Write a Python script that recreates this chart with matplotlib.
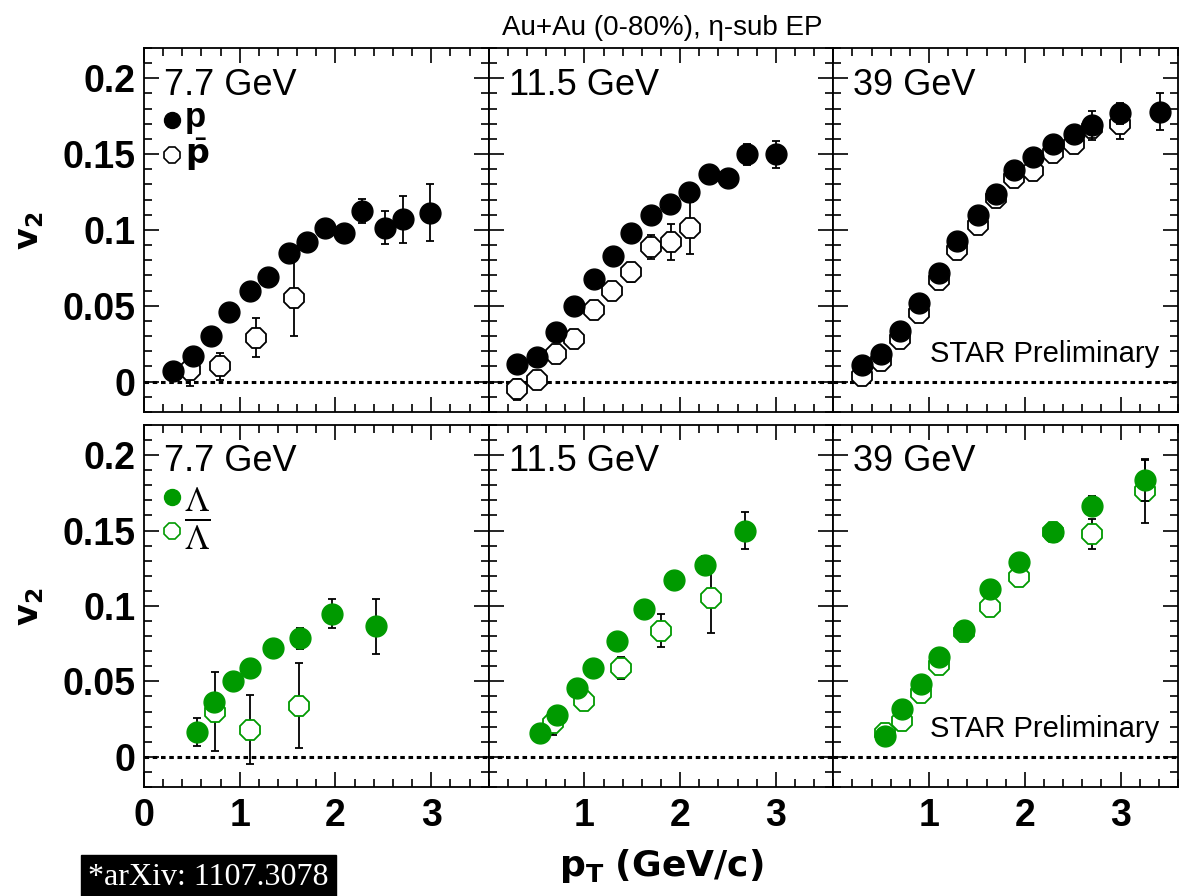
import numpy as np
import matplotlib
matplotlib.use('Agg')
from matplotlib import pyplot as plt
from matplotlib.ticker import MultipleLocator, FixedLocator, FixedFormatter

# Data: pT (GeV/c), v2, stat error
# protons
p77_x = [0.30, 0.51, 0.70, 0.89, 1.11, 1.29, 1.51, 1.70, 1.89, 2.09, 2.28, 2.52, 2.71, 2.99]
p77_y = [0.007, 0.017, 0.030, 0.046, 0.060, 0.069, 0.085, 0.092, 0.101, 0.098, 0.1125, 0.1015, 0.107, 0.1115]
p77_e = [0.001, 0.001, 0.001, 0.001, 0.001, 0.001, 0.001, 0.001, 0.001, 0.001, 0.008, 0.011, 0.0155, 0.019]
pbar77_x = [0.48, 0.79, 1.17, 1.57]
pbar77_y = [0.008, 0.010, 0.029, 0.055]
pbar77_e = [0.011, 0.009, 0.013, 0.025]

p115_x = [0.30, 0.51, 0.70, 0.89, 1.10, 1.30, 1.49, 1.70, 1.89, 2.09, 2.30, 2.50, 2.70, 3.00]
p115_y = [0.0115, 0.016, 0.033, 0.050, 0.068, 0.083, 0.098, 0.110, 0.117, 0.125, 0.137, 0.1345, 0.150, 0.150]
p115_e = [0.001, 0.001, 0.001, 0.001, 0.001, 0.001, 0.001, 0.001, 0.001, 0.001, 0.001, 0.001, 0.007, 0.009]
pbar115_x = [0.30, 0.50, 0.70, 0.89, 1.10, 1.29, 1.49, 1.70, 1.90, 2.10]
pbar115_y = [-0.005, 0.001, 0.018, 0.028, 0.047, 0.060, 0.072, 0.089, 0.092, 0.1015]
pbar115_e = [0.007, 0.002, 0.002, 0.002, 0.002, 0.003, 0.006, 0.008, 0.012, 0.017]

p39_x = [0.30, 0.50, 0.70, 0.89, 1.10, 1.29, 1.51, 1.70, 1.89, 2.09, 2.29, 2.51, 2.70, 2.99, 3.41]
p39_y = [0.011, 0.018, 0.0335, 0.052, 0.0715, 0.093, 0.110, 0.124, 0.1395, 0.148, 0.1565, 0.163, 0.169, 0.177, 0.178]
p39_e = [0.001, 0.001, 0.001, 0.001, 0.001, 0.001, 0.001, 0.001, 0.001, 0.001, 0.001, 0.001, 0.0095, 0.007, 0.012]
pbar39_x = [0.30, 0.50, 0.70, 0.89, 1.10, 1.29, 1.51, 1.70, 1.89, 2.09, 2.29, 2.51, 2.70, 2.99]
pbar39_y = [0.004, 0.0135, 0.028, 0.0455, 0.067, 0.0865, 0.103, 0.121, 0.134, 0.139, 0.151, 0.157, 0.167, 0.170]
pbar39_e = [0.001, 0.001, 0.001, 0.001, 0.001, 0.001, 0.001, 0.001, 0.001, 0.001, 0.001, 0.002, 0.004, 0.010]

# lambdas
l77_x = [0.55, 0.73, 0.93, 1.11, 1.35, 1.63, 1.96, 2.42]
l77_y = [0.0165, 0.0365, 0.050, 0.059, 0.072, 0.0785, 0.095, 0.0865]
l77_e = [0.0095, 0.005, 0.002, 0.002, 0.002, 0.007, 0.0095, 0.018]
lbar77_x = [0.74, 1.11, 1.62]
lbar77_y = [0.030, 0.018, 0.034]
lbar77_e = [0.026, 0.023, 0.028]

l115_x = [0.54, 0.71, 0.92, 1.09, 1.34, 1.62, 1.94, 2.26, 2.68]
l115_y = [0.016, 0.0275, 0.0455, 0.059, 0.077, 0.098, 0.117, 0.127, 0.150]
l115_e = [0.002, 0.004, 0.002, 0.002, 0.002, 0.002, 0.002, 0.006, 0.012]
lbar115_x = [0.67, 1.00, 1.38, 1.80, 2.32]
lbar115_y = [0.0225, 0.037, 0.059, 0.0835, 0.105]
lbar115_e = [0.008, 0.002, 0.0075, 0.011, 0.023]

l39_x = [0.54, 0.72, 0.92, 1.105, 1.36, 1.64, 1.94, 2.29, 2.70, 3.26]
l39_y = [0.0135, 0.032, 0.048, 0.066, 0.084, 0.111, 0.1295, 0.149, 0.1665, 0.1835]
l39_e = [0.002, 0.002, 0.002, 0.002, 0.002, 0.002, 0.002, 0.002, 0.0063, 0.0137]
lbar39_x = [0.54, 0.72, 0.92, 1.105, 1.36, 1.64, 1.94, 2.29, 2.70, 3.26]
lbar39_y = [0.0157, 0.024, 0.042, 0.061, 0.0825, 0.0995, 0.119, 0.149, 0.148, 0.176]
lbar39_e = [0.002, 0.002, 0.002, 0.002, 0.002, 0.002, 0.002, 0.002, 0.010, 0.021]

energies = ['7.7 GeV', '11.5 GeV', '39 GeV']
top_sets = [(p77_x, p77_y, p77_e, pbar77_x, pbar77_y, pbar77_e),
            (p115_x, p115_y, p115_e, pbar115_x, pbar115_y, pbar115_e),
            (p39_x, p39_y, p39_e, pbar39_x, pbar39_y, pbar39_e)]
bot_sets = [(l77_x, l77_y, l77_e, lbar77_x, lbar77_y, lbar77_e),
            (l115_x, l115_y, l115_e, lbar115_x, lbar115_y, lbar115_e),
            (l39_x, l39_y, l39_e, lbar39_x, lbar39_y, lbar39_e)]

green = '#009a00'
sans = 'Liberation Sans'

fig = plt.figure(figsize=(11.79, 8.96), dpi=100)
W, H = 1179.0, 896.0
x0 = 144
pw = (1178 - 144) / 3.0
rows = [(48, 412), (425, 787)]

def style_axes(ax, col, row):
    ax.set_xlim(0, 3.6)
    ax.set_ylim(-0.02, 0.22)
    ax.xaxis.set_major_locator(MultipleLocator(1))
    ax.xaxis.set_minor_locator(MultipleLocator(0.2))
    ax.yaxis.set_major_locator(MultipleLocator(0.05))
    ax.yaxis.set_minor_locator(MultipleLocator(0.01))
    ax.tick_params(which='both', direction='in', top=True, right=True, width=1.2)
    ax.tick_params(which='major', length=11)
    ax.tick_params(which='minor', length=6)
    for s in ax.spines.values():
        s.set_linewidth(1.3)
    ax.axhline(0, color='k', ls=(0, (1.5, 1.2)), lw=2.2, zorder=1)
    if col == 0:
        ax.yaxis.set_major_locator(FixedLocator([0, 0.05, 0.1, 0.15, 0.2]))
        ax.yaxis.set_major_formatter(FixedFormatter(['0', '0.05', '0.1', '0.15', '0.2']))
        for lab in ax.get_yticklabels():
            lab.set_fontfamily(sans)
            lab.set_fontweight('bold')
            lab.set_fontsize(27)
        ax.tick_params(axis='y', pad=6)
    else:
        ax.set_yticklabels([])
    if row == 1:
        ax.set_xticks([0, 1, 2, 3] if col == 0 else [1, 2, 3])
        ax.set_xticklabels(['0', '1', '2', '3'] if col == 0 else ['1', '2', '3'],
                           fontfamily=sans, fontweight='bold', fontsize=27)
        ax.tick_params(axis='x', pad=8)
        ax.xaxis.set_minor_locator(MultipleLocator(0.2))
    else:
        ax.set_xticklabels([])

def draw(ax, data, color):
    fx, fy, fe, ox, oy, oe = data
    ax.errorbar(ox, oy, yerr=oe, fmt='8', ms=15, mfc='white', mec=color, mew=1.3,
                ecolor='k', elinewidth=1.3, capsize=3, capthick=1.3, zorder=3)
    ax.errorbar(fx, fy, yerr=fe, fmt='o', ms=15, mfc=color, mec=color,
                ecolor='k', elinewidth=1.3, capsize=3, capthick=1.3, zorder=4)

for row, sets in enumerate([top_sets, bot_sets]):
    ytop, ybot = rows[row]
    color = 'k' if row == 0 else green
    for col in range(3):
        ax = fig.add_axes([(x0 + col * pw) / W, (H - ybot) / H, pw / W, (ybot - ytop) / H])
        style_axes(ax, col, row)
        draw(ax, sets[col], color)
        ax.text(0.058, 0.872, energies[col], transform=ax.transAxes, fontsize=26,
                fontfamily=sans, va='baseline')
        if col == 2:
            ax.text(0.945, 0.137, 'STAR Preliminary', transform=ax.transAxes, fontsize=21,
                    fontfamily=sans, ha='right', va='baseline')
        if col == 0:
            # legend markers
            ax.plot([0.082], [0.802], 'o', ms=11.5, mfc=color, mec=color,
                    transform=ax.transAxes, clip_on=False)
            ax.plot([0.082], [0.706], '8', ms=12.5, mfc='white', mec=color,
                    mew=1.2, transform=ax.transAxes, clip_on=False)
            if row == 0:
                ax.text(0.118, 0.783, 'p', transform=ax.transAxes, fontfamily=sans,
                        fontweight='bold', fontsize=25, va='baseline')
                ax.text(0.118, 0.681, r'$\bar{\mathbf{p}}$', transform=ax.transAxes,
                        fontsize=24, va='baseline')
            else:
                ax.text(0.116, 0.763, r'$\Lambda$', transform=ax.transAxes,
                        fontsize=25, va='baseline', math_fontfamily='stix')
                ax.text(0.116, 0.655, r'$\overline{\Lambda}$', transform=ax.transAxes,
                        fontsize=25, va='baseline', math_fontfamily='stix')
    # y axis label for the row
    fig.text(29 / W, 1 - ((ytop + ybot) / 2 + 1) / H, r'$\mathbf{v_2}$', fontsize=24,
             rotation=90, ha='center', va='center')

fig.text(662 / W, 1 - 35 / H, u'Au+Au (0-80%), \u03b7-sub EP', fontsize=20,
         fontfamily=sans, ha='center', va='baseline')
fig.text(661 / W, 1 - 866 / H, r'$\mathbf{p_{T}}$ $\mathbf{(GeV/c)}$', fontsize=26,
         ha='center', va='center')
fig.text(88 / W, 1 - 877 / H, '*arXiv: 1107.3078', fontsize=23, color='white',
         fontfamily='Liberation Serif', ha='left', va='center',
         bbox=dict(facecolor='black', edgecolor='black', pad=5))

fig.savefig('out.png', dpi=100)
